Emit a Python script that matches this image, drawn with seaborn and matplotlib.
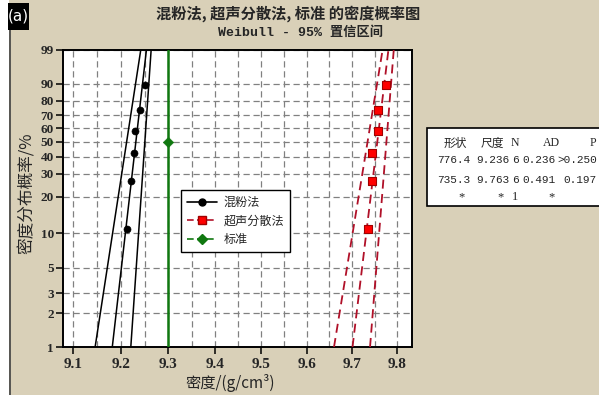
import numpy as np
import matplotlib
matplotlib.use("Agg")
import matplotlib.pyplot as plt
import seaborn as sns
from matplotlib.lines import Line2D
from matplotlib.patches import Rectangle
from matplotlib.ticker import FixedLocator, NullFormatter, NullLocator

# ---------------------------------------------------------
# Data
# ---------------------------------------------------------
rank_pct = [10.9, 26.6, 42.2, 57.8, 73.4, 89.1]
mix_density = [9.212, 9.221, 9.228, 9.230, 9.240, 9.251]
ultra_density = [9.735, 9.745, 9.745, 9.757, 9.757, 9.775]
std_density = 9.3
std_pct = 50

# fitted line and 95% bands, at 1% and 99%
line_pct = [1, 99]
mix_fit = [9.182, 9.254]
mix_lower = [9.146, 9.242]
mix_upper = [9.221, 9.264]
ultra_fit = [9.701, 9.781]
ultra_lower = [9.660, 9.768]
ultra_upper = [9.740, 9.793]

x_ticks = [9.1, 9.2, 9.3, 9.4, 9.5, 9.6, 9.7, 9.8]
x_grid = [9.15, 9.25, 9.35, 9.45, 9.55, 9.65, 9.75]
y_ticks = [1, 2, 3, 5, 10, 20, 30, 40, 50, 60, 70, 80, 90, 99]

series_names = ["混粉法", "超声分散法", "标准"]
table_header = ["形状", "尺度", "N", "AD", "P"]
table_rows = [
    ["776.4", "9.236", "6", "0.236", ">0.250"],
    ["735.3", "9.763", "6", "0.491", "0.197"],
    ["*", "*", "1", "*", ""],
]

title = "混粉法, 超声分散法, 标准 的密度概率图"
subtitle = "Weibull - 95% 置信区间"


def weib_fwd(p):
    p = np.clip(np.asarray(p, dtype=float) / 100.0, 1e-9, 1 - 1e-9)
    return np.log(-np.log(1 - p))


def weib_inv(w):
    return 100.0 * (1 - np.exp(-np.exp(np.asarray(w, dtype=float))))


def make_plot():
    sns.set_style("white")
    plt.rcParams['font.family'] = ['DejaVu Sans', 'Noto Sans CJK SC']

    W, H = 599, 395
    bg = '#d9d0b8'
    green = '#107810'
    dark_red = '#b01028'
    cjk = ['Noto Sans CJK SC', 'DejaVu Sans']

    fig = plt.figure(figsize=(W / 100, H / 100), dpi=100, facecolor=bg)

    # white strip + border on the left, "(a)" tag
    fig.patches.append(Rectangle((0, 0), 9 / W, 1, transform=fig.transFigure,
                                 facecolor='white', edgecolor='none', zorder=0))
    fig.add_artist(Line2D([9.5 / W, 9.5 / W], [0, 1 - 28 / H], transform=fig.transFigure,
                          color='#404040', lw=1.2))
    fig.patches.append(Rectangle((8 / W, 1 - 30 / H), 21 / W, 27 / H, transform=fig.transFigure,
                                 facecolor='black', edgecolor='none', zorder=2))
    fig.text(18.5 / W, 1 - 16 / H, "(a)", color='white', ha='center', va='center',
             fontsize=11, zorder=3)

    ax = fig.add_axes([63 / W, 1 - 347 / H, 349 / W, 297 / H])
    ax.set_facecolor('white')

    ax.set_xscale('log')
    ax.set_yscale('function', functions=(weib_fwd, weib_inv))

    # ---------------------------------------------------------
    # Lines and points
    # ---------------------------------------------------------
    for xs in (mix_lower, mix_fit, mix_upper):
        sns.lineplot(x=xs, y=line_pct, ax=ax, color='black', lw=1.1,
                     sort=False, estimator=None, zorder=3)
    for xs in (ultra_lower, ultra_fit, ultra_upper):
        sns.lineplot(x=xs, y=line_pct, ax=ax, color=dark_red, lw=1.3,
                     linestyle=(0, (5, 3)), sort=False, estimator=None, zorder=3)

    ax.axvline(std_density, color=green, lw=1.8, zorder=3)

    sns.scatterplot(x=mix_density, y=rank_pct, ax=ax, color='black', marker='o',
                    s=26, edgecolor='black', zorder=5)
    sns.scatterplot(x=ultra_density, y=rank_pct, ax=ax, color='#ff0000', marker='s',
                    s=34, edgecolor='#a00000', linewidth=0.8, zorder=5)
    sns.scatterplot(x=[std_density], y=[std_pct], ax=ax, color=green, marker='D',
                    s=28, edgecolor=green, zorder=5)

    # ---------------------------------------------------------
    # Axes styling
    # ---------------------------------------------------------
    ax.set_xlim(9.079, 9.834)
    ax.set_ylim(1, 99)
    ax.xaxis.set_major_locator(FixedLocator(x_ticks))
    ax.set_xticklabels([f"{t:.1f}" for t in x_ticks])
    ax.xaxis.set_minor_locator(FixedLocator(x_grid))
    ax.xaxis.set_minor_formatter(NullFormatter())
    ax.yaxis.set_major_locator(FixedLocator(y_ticks))
    ax.set_yticklabels([str(t) for t in y_ticks])
    ax.yaxis.set_minor_locator(NullLocator())

    ax.tick_params(axis='both', which='major', direction='out', length=5, width=1.1,
                   color='black', left=True, bottom=True)
    ax.tick_params(axis='x', which='minor', length=0)
    ax.tick_params(axis='x', labelsize=11, pad=3)
    ax.tick_params(axis='y', labelsize=9.5, pad=1.5)
    for lbl in ax.get_xticklabels() + ax.get_yticklabels():
        lbl.set_fontfamily('Liberation Serif')
        lbl.set_fontweight('bold')

    grid_kw = dict(color='#808080', lw=0.9, linestyle=(0, (5, 3)))
    ax.grid(True, which='both', axis='x', **grid_kw)
    ax.grid(True, which='major', axis='y', **grid_kw)
    ax.set_axisbelow(True)
    for sp in ax.spines.values():
        sp.set_color('black')
        sp.set_linewidth(1.4)

    ax.set_xlabel("")
    ax.set_ylabel("")
    fig.text(230 / W, 1 - 383 / H, "密度/(g/cm³)", ha='center', va='center',
             fontsize=11, family=cjk)
    fig.text(27 / W, 1 - 193 / H, "密度分布概率/%", ha='center', va='center',
             rotation=90, fontsize=12, family=cjk)

    fig.text(288 / W, 1 - 14 / H, title, ha='center', va='center', fontsize=11,
             fontweight='bold', family=cjk)
    fig.text(300 / W, 1 - 33 / H, subtitle, ha='center', va='center', fontsize=9.5,
             fontweight='bold', family=['Liberation Mono', 'Noto Sans CJK SC'])

    # ---------------------------------------------------------
    # Legend
    # ---------------------------------------------------------
    handles = [
        Line2D([], [], color='black', lw=1.2, marker='o', ms=5),
        Line2D([], [], color=dark_red, lw=1.2, linestyle=(0, (4, 2)), marker='s', ms=6,
               mfc='#ff0000', mec='#a00000'),
        Line2D([], [], color=green, lw=1.2, linestyle=(0, (4, 2)), marker='D', ms=5),
    ]
    leg = ax.legend(handles, series_names, loc='upper left',
                    bbox_to_anchor=(181 / W, 1 - 190 / H), bbox_transform=fig.transFigure,
                    frameon=True, fancybox=False, framealpha=1, edgecolor='black',
                    fontsize=8.7, handlelength=2.5, borderpad=0.5, labelspacing=0.45,
                    handletextpad=0.5, borderaxespad=0)
    leg.get_frame().set_linewidth(1.0)
    for t in leg.get_texts():
        t.set_fontfamily(cjk)

    # ---------------------------------------------------------
    # Parameter table on the right
    # ---------------------------------------------------------
    fig.patches.append(Rectangle((427 / W, 1 - 206 / H), 180 / W, 78 / H,
                                 transform=fig.transFigure, facecolor='white',
                                 edgecolor='black', lw=1.2, zorder=1))
    col_x = [454, 493, 515, 539]
    head_x = [455, 492, 515, 551, 593]
    row_y = [160, 180, 197]
    for hx, h in zip(head_x, table_header):
        fig.text(hx / W, 1 - 143 / H, h, ha='center', va='center', fontsize=8.5,
                 family=cjk if h in ("形状", "尺度") else ['Liberation Serif'], zorder=3)
    star_x = [462, 501, 515, 552]
    for ry, row in zip(row_y, table_rows):
        for i, val in enumerate(row):
            if not val:
                continue
            if ry == 197:
                fig.text(star_x[i] / W, 1 - ry / H, val, ha='center', va='center',
                         fontsize=9, family=['Liberation Serif'], zorder=3)
            elif i == 4:
                fig.text(597 / W, 1 - ry / H, val, ha='right', va='center',
                         fontsize=8, family=['Liberation Mono'], zorder=3)
            else:
                fig.text(col_x[i] / W, 1 - ry / H, val, ha='center', va='center',
                         fontsize=8, family=['Liberation Mono'], zorder=3)

    fig.savefig("out.png", dpi=100, facecolor=bg)


if __name__ == "__main__":
    make_plot()
